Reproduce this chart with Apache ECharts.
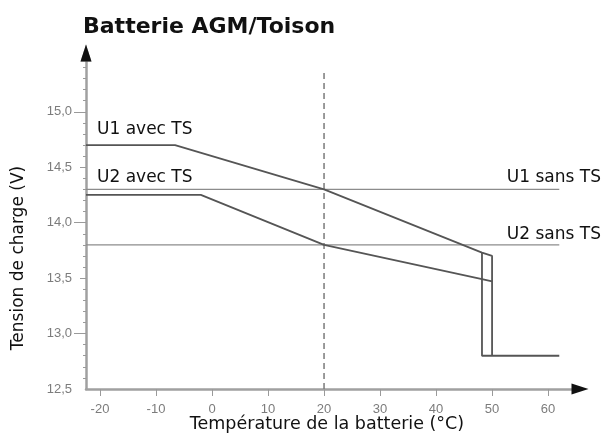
<!DOCTYPE html>
<html>
<head>
<meta charset="utf-8">
<script src="https://cdn.jsdelivr.net/npm/echarts@6/dist/echarts.min.js"></script>
<style>
html, body { margin: 0; padding: 0; background: #fff; }
#chart { width: 604px; height: 434px; }
</style>
</head>
<body>
<div id="chart"></div>
<script>
// ticks
var xTicks = [-20, -10, 0, 10, 20, 30, 40, 50, 60];
var yLabels = [12.5, 13.0, 13.5, 14.0, 14.5, 15.0];
var yMajorTicks = [13, 14, 15];
var yHalfTicks = [13.5, 14.5];
var yMinorTicks = [12.6, 12.7, 12.8, 12.9, 13.1, 13.2, 13.3, 13.4, 13.6, 13.7, 13.8, 13.9,
    14.1, 14.2, 14.3, 14.4, 14.6, 14.7, 14.8, 14.9, 15.1, 15.2, 15.3, 15.4];

// courbes (temperature, tension)
var u1Avec = [[-22.5, 14.7], [-6.6, 14.7], [20, 14.3], [48.2, 13.73], [50, 13.7], [50, 12.8]];
var u2Avec = [[-22.5, 14.25], [-2, 14.25], [20, 13.8], [48.2, 13.49], [50, 13.47]];
var coupure = [[48.2, 13.73], [48.2, 12.8], [62, 12.8]];
var u1Sans = [[-22.5, 14.3], [62, 14.3]];
var u2Sans = [[-22.5, 13.8], [62, 13.8]];
var ref20 = [[20, 12.5], [20, 15.35]];

var FONT = 'DejaVu Sans';
var fmt = function (v) { return v.toFixed(1).replace('.', ','); };

var myChart = echarts.init(document.getElementById('chart'));

var tickLabel = { color: '#7c7c7c', fontFamily: 'Liberation Sans', fontSize: 13, margin: 14 };

function yAx(ticks, len, labels) {
    return {
        type: 'value',
        min: 12.5,
        max: 15.53,
        position: 'left',
        axisLine: {
            show: !!labels,
            onZero: false,
            symbol: ['none', 'triangle'],
            symbolSize: [11, 17],
            lineStyle: { color: '#a0a0a0', width: 2.5 }
        },
        axisTick: { show: true, customValues: ticks, length: len, lineStyle: { color: '#9a9a9a', width: 1 } },
        axisLabel: labels ? Object.assign({ customValues: yLabels, formatter: fmt }, tickLabel) : { show: false },
        splitLine: { show: false }
    };
}

// seulement la fleche noire, trait presque invisible
var arrowOnly = {
    onZero: false,
    symbol: ['none', 'triangle'],
    symbolSize: [11, 17],
    lineStyle: { color: '#111', width: 0.01 }
};

function serie(data, color, width, type, yIdx) {
    return {
        type: 'line',
        data: data,
        symbol: 'none',
        silent: true,
        lineStyle: { color: color, width: width, type: type || 'solid' },
        z: 3
    };
}

option = {
    animation: false,
    grid: { left: 86, right: 24, top: 53, bottom: 45 },
    title: {
        text: 'Batterie AGM/Toison',
        left: 78,
        top: 11,
        textStyle: { fontFamily: FONT, fontSize: 22, fontWeight: 'bold', color: '#111' }
    },
    xAxis: [{
        type: 'value',
        min: -22.5,
        max: 65.7,
        axisLine: {
            onZero: false,
            lineStyle: { color: '#a0a0a0', width: 2.5 }
        },
        axisTick: { customValues: xTicks, length: 7, lineStyle: { color: '#9a9a9a' } },
        axisLabel: Object.assign({ customValues: xTicks }, tickLabel),
        splitLine: { show: false }
    }, {
        type: 'value', position: 'bottom', min: -22.5, max: 65.7,
        axisLine: arrowOnly, axisTick: { show: false }, axisLabel: { show: false }, splitLine: { show: false }
    }],
    yAxis: [
        yAx(yMajorTicks, 12, true),
        yAx(yHalfTicks, 6, false),
        yAx(yMinorTicks, 3, false),
        {
            type: 'value', position: 'left', min: 12.5, max: 15.53,
            axisLine: arrowOnly, axisTick: { show: false }, axisLabel: { show: false }, splitLine: { show: false }
        }
    ],
    graphic: [
        { type: 'text', left: 97, top: 121, style: { text: 'U1 avec TS', font: '17px "DejaVu Sans"', fill: '#111' } },
        { type: 'text', left: 97, top: 169, style: { text: 'U2 avec TS', font: '17px "DejaVu Sans"', fill: '#111' } },
        { type: 'text', right: 3, top: 169, style: { text: 'U1 sans TS', font: '17px "DejaVu Sans"', fill: '#111' } },
        { type: 'text', right: 3, top: 226, style: { text: 'U2 sans TS', font: '17px "DejaVu Sans"', fill: '#111' } },
        { type: 'text', x: 327, y: 424, style: { text: 'Température de la batterie (°C)', font: '17.5px "DejaVu Sans"', fill: '#111', align: 'center', verticalAlign: 'middle' } },
        { type: 'text', x: 19, y: 258, rotation: Math.PI / 2, style: { text: 'Tension de charge (V)', font: '17px "DejaVu Sans"', fill: '#111', align: 'center', verticalAlign: 'middle' } }
    ],
    series: [
        serie(u1Sans, '#8c8c8c', 1.2),
        serie(u2Sans, '#8c8c8c', 1.2),
        serie(ref20, '#7a7a7a', 1.5, [6, 4]),
        serie(u1Avec, '#555', 1.8),
        serie(u2Avec, '#555', 1.8),
        serie(coupure, '#555', 1.8)
    ]
};

myChart.setOption(option);
</script>
</body>
</html>
